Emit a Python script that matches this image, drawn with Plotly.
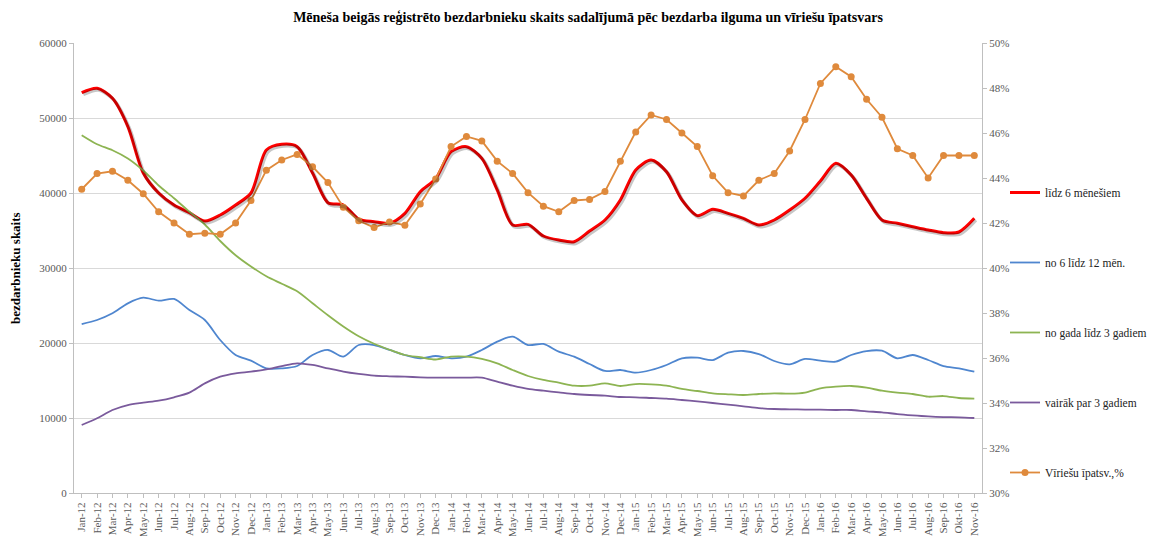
import plotly.graph_objects as go

months = ["Jan-12","Feb-12","Mar-12","Apr-12","May-12","Jun-12","Jul-12","Aug-12","Sep-12","Oct-12","Nov-12","Dec-12",
          "Jan-13","Feb-13","Mar-13","Apr-13","May-13","Jun-13","Jul-13","Aug-13","Sep-13","Oct-13","Nov-13","Dec-13",
          "Jan-14","Feb-14","Mar-14","Apr-14","May-14","Jun-14","Jul-14","Aug-14","Sep-14","Oct-14","Nov-14","Dec-14",
          "Jan-15","Feb-15","Mar-15","Apr-15","May-15","Jun-15","Jul-15","Aug-15","Sep-15","Oct-15","Nov-15","Dec-15",
          "Jan-16","Feb-16","Mar-16","Apr-16","May-16","Jun-16","Jul-16","Aug-16","Sep-16","Okt-16","Nov-16"]

lidz_6 = [53380, 53960, 52620, 48850, 42660, 40000, 38400, 37380, 36270, 37070, 38400, 40000,
          45730, 46490, 46180, 42660, 38710, 38400, 36530, 36180, 35960, 37290, 40180, 41900,
          45510, 46180, 44620, 40400, 35730, 35820, 34270, 33730, 33510, 34930, 36400, 39070,
          43070, 44400, 42840, 39070, 36980, 37820, 37290, 36620, 35730, 36400, 37730, 39300,
          41600, 43960, 42400, 39290, 36400, 35960, 35510, 35070, 34710, 34800, 36620]

no_6_12 = [22530, 23070, 23960, 25290, 26040, 25640, 25870, 24400, 23070, 20400, 18400, 17640,
           16620, 16620, 16930, 18400, 19070, 18180, 19730, 19730, 19070, 18400, 17960, 18270,
           17960, 18180, 19070, 20180, 20840, 19730, 19870, 18840, 18180, 17200, 16270, 16400,
           16040, 16400, 17070, 17960, 18040, 17730, 18710, 18930, 18530, 17600, 17160, 17870,
           17640, 17510, 18400, 18930, 18970, 17960, 18400, 17730, 16930, 16620, 16180]

no_gada_3 = [47700, 46500, 45700, 44600, 43000, 41000, 39300, 37500, 35800, 33600, 31700, 30200,
             28900, 27900, 26900, 25300, 23700, 22200, 20900, 19900, 19100, 18400, 18100, 17800,
             18180, 18180, 17870, 17290, 16400, 15600, 15070, 14710, 14310, 14310, 14620, 14270,
             14530, 14490, 14310, 13870, 13600, 13290, 13160, 13070, 13200, 13290, 13240, 13380,
             13960, 14180, 14270, 14040, 13640, 13380, 13200, 12840, 12930, 12670, 12580]

virak_3 = [9070, 9960, 11070, 11730, 12040, 12310, 12760, 13380, 14620, 15510, 15960, 16180,
           16490, 16930, 17290, 17070, 16620, 16180, 15870, 15640, 15560, 15510, 15420, 15380,
           15380, 15380, 15380, 14840, 14310, 13870, 13640, 13420, 13200, 13070, 12980, 12800,
           12760, 12670, 12580, 12400, 12220, 12000, 11780, 11560, 11330, 11200, 11160, 11120,
           11110, 11070, 11070, 10890, 10760, 10530, 10360, 10220, 10130, 10090, 10000]

virieshu_pct = [43.5, 44.2, 44.3, 43.9, 43.3, 42.5, 42.0, 41.5, 41.55, 41.5, 42.0, 43.0,
                44.35, 44.8, 45.05, 44.5, 43.8, 42.7, 42.1, 41.8, 42.05, 41.9, 42.85, 43.95,
                45.4, 45.85, 45.65, 44.75, 44.2, 43.35, 42.75, 42.5, 43.0, 43.05, 43.4, 44.75,
                46.05, 46.8, 46.6, 46.0, 45.4, 44.1, 43.35, 43.2, 43.9, 44.2, 45.2, 46.6,
                48.2, 48.95, 48.5, 47.5, 46.7, 45.3, 45.0, 44.0, 45.0, 45.0, 45.0]

left_ticks = [0, 10000, 20000, 30000, 40000, 50000, 60000]
right_ticks = [30, 32, 34, 36, 38, 40, 42, 44, 46, 48, 50]

serif = "Liberation Serif, Times New Roman, serif"
tick_col = "#595959"
grid_col = "#d9d9d9"

# page has an 8px body margin, so the figure is sized/offset to compensate
W, H = 1153, 528
OFF = 8

fig = go.Figure()

# shadow under the red line (drawn on offset overlay axes)
fig.add_trace(go.Scatter(x=months, y=lidz_6, mode="lines", xaxis="x2", yaxis="y3",
                         line=dict(color="rgba(0,0,0,0.22)", width=3.5, shape="spline", smoothing=0.8),
                         showlegend=False, hoverinfo="skip"))

fig.add_trace(go.Scatter(x=months, y=lidz_6, name="līdz 6 mēnešiem", mode="lines",
                         line=dict(color="#ff0000", width=3, shape="spline", smoothing=0.8),
                         legendgroup="a"))
fig.add_trace(go.Scatter(x=months, y=no_6_12, name="no 6 līdz 12 mēn.", mode="lines",
                         line=dict(color="#4f86cf", width=1.8, shape="spline", smoothing=0.8),
                         legendgroup="b"))
fig.add_trace(go.Scatter(x=months, y=no_gada_3, name="no gada līdz 3 gadiem", mode="lines",
                         line=dict(color="#8db452", width=1.8, shape="spline", smoothing=0.8),
                         legendgroup="c"))
fig.add_trace(go.Scatter(x=months, y=virak_3, name="vairāk par 3 gadiem", mode="lines",
                         line=dict(color="#7a5a9c", width=1.8, shape="spline", smoothing=0.8),
                         legendgroup="d"))
fig.add_trace(go.Scatter(x=months, y=virieshu_pct, name="Vīriešu īpatsv.,%", mode="lines+markers",
                         yaxis="y2",
                         line=dict(color="#df8a3c", width=1.8),
                         marker=dict(color="#df8a3c", size=7),
                         legendgroup="e"))

x_range = [-0.5, len(months) - 0.5]
px_per_cat = 908 / len(months)
dx = 1.6 / px_per_cat
dy = 1.8 * 60000 / 450

fig.update_layout(
    width=W, height=H,
    margin=dict(l=74 - OFF, r=W - (982 - OFF), t=43 - OFF, b=H - (493 - OFF), autoexpand=False),
    paper_bgcolor="white", plot_bgcolor="white",
    font=dict(family=serif, color=tick_col, size=11),
    title=dict(text="<b>Mēneša beigās reģistrēto bezdarbnieku skaits sadalījumā pēc bezdarba ilguma un vīriešu īpatsvars</b>",
               x=(588 - OFF) / W, xanchor="center", y=1 - (17 - OFF) / H, yanchor="middle",
               font=dict(family=serif, size=14, color="#000000")),
    xaxis=dict(type="category", range=x_range, tickangle=-90, automargin=False,
               tickmode="array", tickvals=months, ticktext=months,
               showgrid=False, showline=True, linecolor="#bfbfbf", linewidth=1,
               ticks="outside", ticklen=4, tickcolor="#bfbfbf",
               tickfont=dict(family=serif, size=11, color=tick_col), zeroline=False),
    xaxis2=dict(type="category", range=[x_range[0] - dx, x_range[1] - dx], overlaying="x",
                visible=False, showgrid=False, automargin=False),
    yaxis=dict(range=[0, 60000], tickvals=left_ticks, ticktext=[str(t) for t in left_ticks],
               showgrid=True, gridcolor=grid_col, gridwidth=1, automargin=False,
               showline=True, linecolor="#bfbfbf", linewidth=1,
               ticks="outside", ticklen=4, tickcolor="#bfbfbf",
               zeroline=False,
               tickfont=dict(family=serif, size=11, color=tick_col)),
    yaxis2=dict(range=[30, 50], overlaying="y", side="right", automargin=False,
                tickvals=right_ticks, ticktext=[f"{t}%" for t in right_ticks],
                showgrid=False, showline=True, linecolor="#bfbfbf", linewidth=1,
                ticks="outside", ticklen=4, tickcolor="#bfbfbf", zeroline=False,
                tickfont=dict(family=serif, size=11, color=tick_col)),
    yaxis3=dict(range=[dy, 60000 + dy], overlaying="y", visible=False, showgrid=False, automargin=False),
    legend=dict(xref="container", yref="container", x=(1005 - OFF) / W, xanchor="left",
                y=1 - (178 - OFF) / H, yanchor="top", maxheight=500,
                traceorder="grouped", tracegroupgap=51, itemwidth=30,
                font=dict(family=serif, size=11.5, color="#222222"),
                bgcolor="rgba(0,0,0,0)"),
    showlegend=True,
    annotations=[dict(text="<b>bezdarbnieku skaits</b>", textangle=-90,
                      xref="paper", yref="paper", x=(15 - 74) / 908, y=0.5,
                      xanchor="center", yanchor="middle", showarrow=False,
                      font=dict(family=serif, size=13, color="#000000"))],
)

fig.write_html("out.html")
